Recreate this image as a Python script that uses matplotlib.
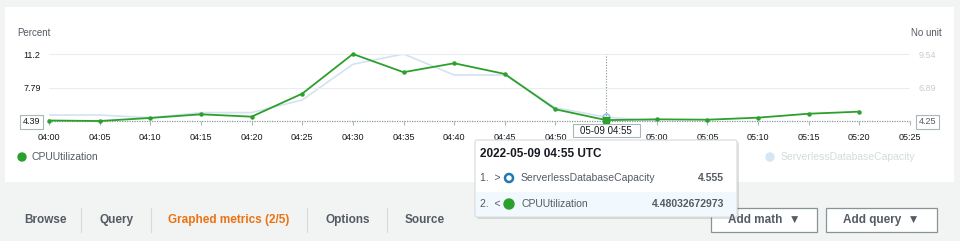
import matplotlib.pyplot as plt
from matplotlib.patches import Rectangle, FancyBboxPatch

plt.rcParams['font.family'] = ['Liberation Sans', 'DejaVu Sans']

# data (5 minute points)
times = ['04:00', '04:05', '04:10', '04:15', '04:20', '04:25', '04:30', '04:35', '04:40',
         '04:45', '04:50', '04:55', '05:00', '05:05', '05:10', '05:15', '05:20', '05:25']
cpu = [4.44, 4.39, 4.70, 5.07, 4.83, 7.17, 11.2, 9.35, 10.26, 9.17, 5.58, 4.48,
       4.56, 4.52, 4.73, 5.13, 5.34]
capacity = [4.72, 4.72, 4.51, 4.91, 4.91, 5.91, 8.73, 9.54, 7.88, 7.88, 5.30, 4.555, 4.25]
left_ticks = [4.39, 7.79, 11.2]
right_ticks = [4.25, 6.89, 9.54]
hover = 11  # index of 04:55

W, H = 960, 241
GREEN = '#2ca02c'
FADED = '#d3e3f1'
GRAY = '#545b64'

fig = plt.figure(figsize=(W / 100, H / 100), dpi=100, facecolor='#f2f3f3')

def px_axes(x0, y0, x1, y1, **kw):
    # axes from pixel box (top-left origin)
    return fig.add_axes([x0 / W, 1 - y1 / H, (x1 - x0) / W, (y1 - y0) / H], **kw)

# white panel behind the chart
bg = px_axes(0, 0, W, H, zorder=0)
bg.set_xlim(0, W)
bg.set_ylim(H, 0)
bg.axis('off')
bg.add_patch(Rectangle((5, 7), 949, 175, facecolor='white', edgecolor='none'))

# chart
ax = px_axes(49, 54, 910, 121, zorder=1)
ax.patch.set_alpha(0)
x = [i * 5 for i in range(len(times))]
ax2 = ax.twinx()
ax2.plot(x[:len(capacity)], capacity, color=FADED, lw=1.2, zorder=2)
ax2.plot(x[hover], capacity[hover], 'o', ms=5, mfc='white', mec='#9cc3e6', mew=1.2, zorder=5)
ax2.set_ylim(right_ticks[0], right_ticks[-1])
ax2.set_yticks(right_ticks)
ax2.set_yticklabels([f'{v:.2f}' for v in right_ticks], fontsize=6.5)
ax2.tick_params(axis='y', length=0, pad=6, labelcolor='#c8ccd0')
rl = ax2.get_yticklabels()[0]
rl.set_color(GRAY)
rl.set_bbox(dict(facecolor='white', edgecolor='#aab7b8', lw=0.8, boxstyle='square,pad=0.3'))

ax.set_zorder(2)
ax.plot(x[:len(cpu)], cpu, color=GREEN, lw=1.3, marker='o', ms=2.2, zorder=3, clip_on=False)
ax.plot(x[hover], cpu[hover], 's', ms=5, color=GREEN, zorder=4, clip_on=False)
ax.set_xlim(0, 85)
ax.set_ylim(left_ticks[0], left_ticks[-1])
ax.set_yticks(left_ticks)
ax.set_yticklabels([f'{v:g}' for v in left_ticks], fontsize=6.5, color='#16191f')
ax.set_xticks(x)
ax.set_xticklabels(times, fontsize=6.5, color='#16191f')
# the 04:55 label sits under the hover time box
ax.get_xticklabels()[hover].set_visible(False)
ax.tick_params(axis='y', length=0, pad=6)
ax.tick_params(axis='x', length=3, pad=6, color='#aab7b8')
ll = ax.get_yticklabels()[0]
ll.set_bbox(dict(facecolor='white', edgecolor='#aab7b8', lw=0.8, boxstyle='square,pad=0.3'))
for v in left_ticks[1:]:
    ax.axhline(v, color='#eaeded', lw=0.8, zorder=0)
ax.axhline(left_ticks[0], color='#879596', lw=0.9, ls=(0, (1, 1)), clip_on=False, zorder=1)
ax.axvline(x[hover], color='#879596', lw=0.8, ls=(0, (1, 1.5)), zorder=1)
for a in (ax, ax2):
    for s in a.spines.values():
        s.set_visible(False)

# overlay in pixel coordinates
ov = px_axes(0, 0, W, H, zorder=5)
ov.set_xlim(0, W)
ov.set_ylim(H, 0)
ov.axis('off')
ov.patch.set_alpha(0)

ov.text(17, 33, 'Percent', fontsize=7, color=GRAY, va='center')
ov.text(942, 33, 'No unit', fontsize=7, color=GRAY, va='center', ha='right')

# hovered time box on the x axis
ov.add_patch(Rectangle((573, 124), 67, 13, facecolor='white', edgecolor='#aab7b8', lw=0.8))
ov.text(606, 130.5, '05-09 04:55', fontsize=7, color='#16191f', ha='center', va='center')

# legend
ov.add_patch(plt.Circle((22, 157), 4, color=GREEN))
ov.text(31, 157, 'CPUUtilization', fontsize=7.5, color=GRAY, va='center')
ov.add_patch(plt.Circle((770, 157), 4, color='#d6e6f2'))
ov.text(781, 157, 'ServerlessDatabaseCapacity', fontsize=7.5, color='#d5dbdb', va='center')

# tabs
tabs = ['Browse', 'Query', 'Graphed metrics (2/5)', 'Options', 'Source']
tab_x = [24, 99, 168, 326, 405]
for name, tx in zip(tabs, tab_x):
    c = '#ec7211' if name.startswith('Graphed') else GRAY
    ov.text(tx, 220, name, fontsize=8.5, fontweight='bold', color=c, va='center')
for dx in [81, 151, 307, 387]:
    ov.plot([dx, dx], [208, 232], color='#d5dbdb', lw=0.8)

# buttons
for bx0, bx1, label in [(711, 817, 'Add math  \u25BC'), (826, 937, 'Add query  \u25BC')]:
    ov.add_patch(Rectangle((bx0, 208), bx1 - bx0, 24, facecolor='white',
                           edgecolor='#879596', lw=0.9))
    ov.text((bx0 + bx1) / 2, 220, label, fontsize=8.5, fontweight='bold',
            color=GRAY, ha='center', va='center')

# tooltip
ov.add_patch(FancyBboxPatch((477, 142), 262, 77, boxstyle='round,pad=0,rounding_size=2',
                            facecolor='#000000', alpha=0.12, edgecolor='none'))
ov.add_patch(FancyBboxPatch((475, 140), 262, 77, boxstyle='round,pad=0,rounding_size=2',
                            facecolor='white', edgecolor='#d5dbdb', lw=0.8))
ov.add_patch(Rectangle((476, 192), 260, 24, facecolor='#f1f8fe', edgecolor='none'))
ov.text(480, 154, '2022-05-09 04:55 UTC', fontsize=8.5, fontweight='bold',
        color='#16191f', va='center')
rows = [('1.  >', 'ServerlessDatabaseCapacity', '4.555', 178),
        ('2.  <', 'CPUUtilization', '4.48032672973', 204)]
for num, name, val, ry in rows:
    ov.text(480, ry, num, fontsize=7.5, color=GRAY, va='center')
    ov.text(521, ry, name, fontsize=7.5, color=GRAY, va='center')
    ov.text(724, ry, val, fontsize=7.5, fontweight='bold', color=GRAY, va='center', ha='right')
ov.add_patch(plt.Circle((509, 178), 4, facecolor='white', edgecolor='#1f77b4', lw=1.8))
ov.add_patch(plt.Circle((509, 204), 5, color=GREEN))

fig.savefig('out.png', dpi=100, facecolor=fig.get_facecolor())
